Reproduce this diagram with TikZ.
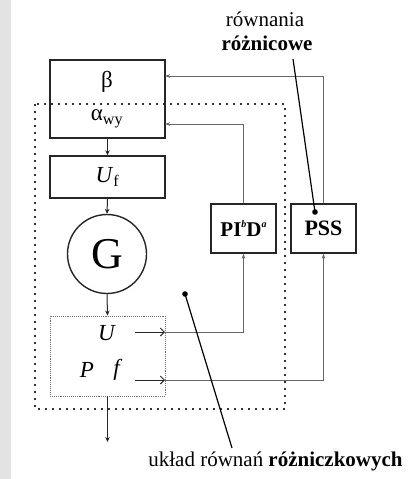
\documentclass[tikz,border=0pt]{standalone}
\usepackage{fontspec}
\setmainfont{Liberation Serif}
\usetikzlibrary{arrows.meta}
\newcommand{\tinysup}[1]{\raisebox{0.45em}{\fontsize{10}{12}\selectfont\itshape #1}}
\begin{document}
\begin{tikzpicture}[x=1pt,y=-1pt,
 box/.style={draw=black!85, line width=1.4pt, inner sep=0pt},
 flow/.style={draw=black!85, line width=1pt, -{Stealth[length=5pt,width=4.5pt]}},
 fb/.style={draw=black!60, line width=0.8pt},
 fbarrow/.style={fb, -{Stealth[length=5pt,width=3.5pt]}},
 outarrow/.style={draw=black!85, line width=1pt, -{Straight Barb[length=4pt,width=8pt]}},
 pointer/.style={draw=black, line width=1.2pt},
 dotb/.style={draw=black!80, line width=2pt, dash pattern=on 2pt off 5pt},
 lbl/.style={font=\fontsize{21}{25}\selectfont, inner sep=0pt}
]
\useasboundingbox (0,0) rectangle (416,479);
\fill[gray!22] (0,0) rectangle (11,479);

% outer dotted region
\draw[dotb] (35,104) rectangle (285,409);

% main chain
\node[box, minimum width=115pt, minimum height=78pt] (ba) at (107.5,99) {};
\node[lbl, font=\fontsize{23}{27}\selectfont] (beta) at (107,82) {β};
\node[lbl, font=\fontsize{23}{27}\selectfont] (alpha) at (107,119) {α\textsubscript{wy}};
\node[box, lbl, inner sep=0pt, minimum width=115pt, minimum height=42pt, font=\fontsize{23}{27}\selectfont] (uf) at (107.5,177) {\textit{U}\textsubscript{f}};
\node[circle, draw=black!85, line width=1.4pt, minimum size=79pt, inner sep=0pt, font=\fontsize{44}{48}\selectfont] (G) at (107,254) {G};
\node[draw=black!55, line width=0.9pt, densely dotted, minimum width=115pt, minimum height=80pt, inner sep=0pt] (sys) at (107.5,356) {};
\node[lbl, font=\fontsize{23}{27}\selectfont] (U) at (107,333) {\textit{U}};
\node[lbl, font=\fontsize{23}{27}\selectfont] (P) at (87,370) {\textit{P}};
\node[lbl, font=\fontsize{23}{27}\selectfont] (f) at (118,370) {\textit{f}};

\draw[flow] (ba.south) -- (uf.north);
\draw[flow] (uf.south) -- (G.north);
\draw[flow] (G.south) -- (sys.north);
\coordinate (out) at (107.5,442);
\draw[flow] (sys.south) -- (out);

% controllers
\node[box, lbl, minimum width=65pt, minimum height=49pt, font=\fontsize{21}{25}\selectfont\bfseries] (pid) at (243.5,228.5) {PI\tinysup{b}D\tinysup{a}};
\node[box, lbl, minimum width=65pt, minimum height=49pt, font=\fontsize{22}{26}\selectfont\bfseries] (pss) at (323.5,228.5) {PSS};

% outputs
\coordinate (ua) at (135,332);
\coordinate (ue) at (165,332);
\coordinate (fa) at (135,380);
\coordinate (fe) at (165,380);
\draw[outarrow] (ua) -- (ue);
\draw[outarrow] (fa) -- (fe);
\draw[fb, -{Stealth[length=5pt,width=3.5pt]}] (ue) -| (pid.south);
\draw[fb, -{Stealth[length=5pt,width=3.5pt]}] (fe) -| (pss.south);

% feedback
\coordinate (aIn) at (165,124);
\coordinate (bIn) at (165,76);
\draw[fbarrow] (pid.north) |- (aIn);
\draw[fbarrow] (pss.north) |- (bIn);

% annotations
\node[lbl] (rown) at (265,19) {równania};
\node[lbl, font=\fontsize{21}{25}\selectfont\bfseries] (rozn) at (267,43) {różnicowe};
\coordinate (p1a) at (293,59);
\coordinate (p1b) at (315,212);
\draw[pointer] (p1a) -- (p1b);
\fill (p1b) circle (2.8pt);

\node[lbl] (uklad) at (275.5,461) {układ równań \textbf{różniczkowych}};
\coordinate (p2a) at (185,294);
\coordinate (p2b) at (232,448);
\draw[pointer] (p2a) -- (p2b);
\fill (p2a) circle (2.8pt);
\end{tikzpicture}
\end{document}
